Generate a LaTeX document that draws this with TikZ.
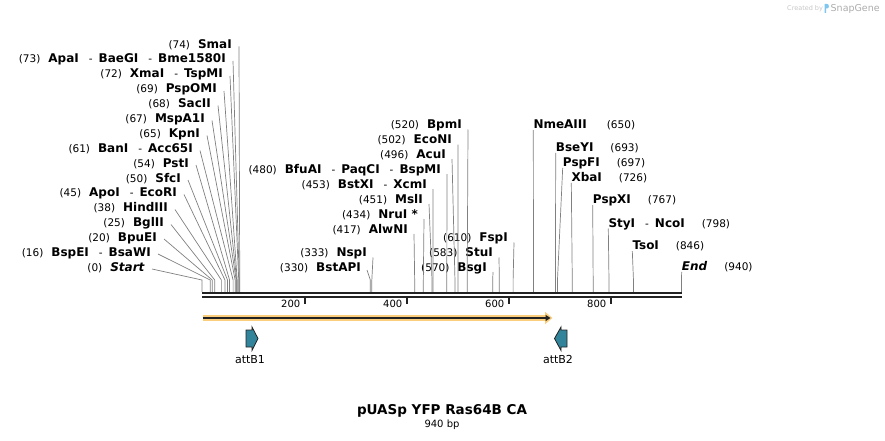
\documentclass[tikz,border=0pt]{standalone}
\usepackage{fontspec}
\setmainfont{DejaVu Sans}
\usetikzlibrary{arrows.meta}

\definecolor{cutgray}{RGB}{128,128,128}
\definecolor{axisblack}{RGB}{34,34,34}
\definecolor{featorange}{RGB}{250,206,125}
\definecolor{attteal}{RGB}{50,132,155}
\definecolor{logoblue}{RGB}{125,198,240}

\newcommand{\sitenum}[1]{{\fontsize{10.5}{12}\selectfont(#1)}}
\newcommand{\orcut}{\hspace{10pt}{\fontsize{10.5}{12}\selectfont-}\hspace{6pt}}

\begin{document}
\begin{tikzpicture}[x=1pt,y=-1pt,
    lbl/.style={inner sep=0pt, font=\fontsize{12}{14}\selectfont},
    lleft/.style={lbl, anchor=base east},
    lright/.style={lbl, anchor=base west},
    cut/.style={draw=cutgray, line width=0.7pt},
    axisline/.style={draw=axisblack, line width=2.5pt},
    tick/.style={draw=axisblack, line width=2pt},
    ticklbl/.style={inner sep=0pt, anchor=base east, font=\fontsize{10}{12}\selectfont},
    featbar/.style={draw=featorange, line width=6pt, -{Triangle[length=7.5pt,width=12pt]}},
    featline/.style={draw=axisblack, line width=1.8pt, -{Triangle[length=5pt,width=6pt]}},
    attbox/.style={draw=axisblack, fill=attteal, line width=0.8pt, line join=miter},
    attlbl/.style={inner sep=0pt, font=\fontsize{11}{13}\selectfont}]
  \useasboundingbox (0,0) rectangle (885,441);

  % site positions on the map and the level where the leaders turn down
  \foreach \p in {0,16,20,25,38,45,50,54,61,65,67,68,69,72,73,74,
                  330,333,417,434,451,453,480,496,502,520,570,583,610,
                  650,693,697,726,767,798,846,940}
    \coordinate (c\p) at ({202+0.51*\p},292);
  \coordinate (bend) at (0,280);

  % left fan
  \node[lleft] (smaI) at (232,48.5) {\sitenum{74}\hspace{8pt}\textbf{SmaI}};
  \node[lleft] (apaI) at (226,63) {\sitenum{73}\hspace{8pt}\textbf{ApaI}\orcut\textbf{BaeGI}\orcut\textbf{Bme1580I}};
  \node[lleft] (xmaI) at (223,78) {\sitenum{72}\hspace{8pt}\textbf{XmaI}\orcut\textbf{TspMI}};
  \node[lleft] (pspOMI) at (217,93) {\sitenum{69}\hspace{8pt}\textbf{PspOMI}};
  \node[lleft] (sacII) at (211,107.5) {\sitenum{68}\hspace{8pt}\textbf{SacII}};
  \node[lleft] (mspA1I) at (205,122.5) {\sitenum{67}\hspace{8pt}\textbf{MspA1I}};
  \node[lleft] (kpnI) at (200,137.5) {\sitenum{65}\hspace{8pt}\textbf{KpnI}};
  \node[lleft] (banI) at (193,152.5) {\sitenum{61}\hspace{8pt}\textbf{BanI}\orcut\textbf{Acc65I}};
  \node[lleft] (pstI) at (189,167) {\sitenum{54}\hspace{8pt}\textbf{PstI}};
  \node[lleft] (sfcI) at (181,182) {\sitenum{50}\hspace{8pt}\textbf{SfcI}};
  \node[lleft] (apoI) at (177,196.5) {\sitenum{45}\hspace{8pt}\textbf{ApoI}\orcut\textbf{EcoRI}};
  \node[lleft] (hindIII) at (168,211.5) {\sitenum{38}\hspace{8pt}\textbf{HindIII}};
  \node[lleft] (bglII) at (164,226.5) {\sitenum{25}\hspace{8pt}\textbf{BglII}};
  \node[lleft] (bpuEI) at (157,241) {\sitenum{20}\hspace{8pt}\textbf{BpuEI}};
  \node[lleft] (bspEI) at (151,256) {\sitenum{16}\hspace{8pt}\textbf{BspEI}\orcut\textbf{BsaWI}};
  \node[lleft] (start) at (145,271) {\sitenum{0}\hspace{8pt}\textbf{\textit{Start}}};

  \draw[cut] ([xshift=7pt,yshift=2pt]smaI.base east) -- (c74 |- bend) -- (c74);
  \draw[cut] ([xshift=7pt,yshift=2pt]apaI.base east) -- (c73 |- bend) -- (c73);
  \draw[cut] ([xshift=7pt,yshift=2pt]xmaI.base east) -- (c72 |- bend) -- (c72);
  \draw[cut] ([xshift=7pt,yshift=2pt]pspOMI.base east) -- (c69 |- bend) -- (c69);
  \draw[cut] ([xshift=7pt,yshift=2pt]sacII.base east) -- (c68 |- bend) -- (c68);
  \draw[cut] ([xshift=7pt,yshift=2pt]mspA1I.base east) -- (c67 |- bend) -- (c67);
  \draw[cut] ([xshift=7pt,yshift=2pt]kpnI.base east) -- (c65 |- bend) -- (c65);
  \draw[cut] ([xshift=7pt,yshift=2pt]banI.base east) -- (c61 |- bend) -- (c61);
  \draw[cut] ([xshift=7pt,yshift=2pt]pstI.base east) -- (c54 |- bend) -- (c54);
  \draw[cut] ([xshift=7pt,yshift=2pt]sfcI.base east) -- (c50 |- bend) -- (c50);
  \draw[cut] ([xshift=7pt,yshift=2pt]apoI.base east) -- (c45 |- bend) -- (c45);
  \draw[cut] ([xshift=7pt,yshift=2pt]hindIII.base east) -- (c38 |- bend) -- (c38);
  \draw[cut] ([xshift=7pt,yshift=2pt]bglII.base east) -- (c25 |- bend) -- (c25);
  \draw[cut] ([xshift=7pt,yshift=2pt]bpuEI.base east) -- (c20 |- bend) -- (c20);
  \draw[cut] ([xshift=7pt,yshift=2pt]bspEI.base east) -- (c16 |- bend) -- (c16);
  \draw[cut] ([xshift=7pt,yshift=2pt]start.base east) -- (c0 |- bend) -- (c0);

  % middle fan
  \node[lleft] (bpmI) at (462,128.5) {\sitenum{520}\hspace{8pt}\textbf{BpmI}};
  \node[lleft] (ecoNI) at (452,143.5) {\sitenum{502}\hspace{8pt}\textbf{EcoNI}};
  \node[lleft] (acuI) at (446,158) {\sitenum{496}\hspace{8pt}\textbf{AcuI}};
  \node[lleft] (bfuAI) at (441,173) {\sitenum{480}\hspace{8pt}\textbf{BfuAI}\orcut\textbf{PaqCI}\orcut\textbf{BspMI}};
  \node[lleft] (bstXI) at (427,188) {\sitenum{453}\hspace{8pt}\textbf{BstXI}\orcut\textbf{XcmI}};
  \node[lleft] (mslI) at (423,203) {\sitenum{451}\hspace{8pt}\textbf{MslI}};
  \node[lleft] (nruI) at (418,218) {\sitenum{434}\hspace{8pt}\textbf{NruI *}};
  \node[lleft] (alwNI) at (408,233) {\sitenum{417}\hspace{8pt}\textbf{AlwNI}};
  \node[lleft] (nspI) at (367,256.5) {\sitenum{333}\hspace{8pt}\textbf{NspI}};
  \node[lleft] (bstAPI) at (361,271) {\sitenum{330}\hspace{8pt}\textbf{BstAPI}};
  \node[lleft] (fspI) at (508,241.5) {\sitenum{610}\hspace{8pt}\textbf{FspI}};
  \node[lleft] (stuI) at (493,256.5) {\sitenum{583}\hspace{8pt}\textbf{StuI}};
  \node[lleft] (bsgI) at (487,271) {\sitenum{570}\hspace{8pt}\textbf{BsgI}};

  \draw[cut] ([xshift=6pt,yshift=-1pt]bpmI.base east) -- (c520 |- bend) -- (c520);
  \draw[cut] ([xshift=6pt,yshift=-1pt]ecoNI.base east) -- (c502 |- bend) -- (c502);
  \draw[cut] ([xshift=6pt,yshift=-1pt]acuI.base east) -- (c496 |- bend) -- (c496);
  \draw[cut] ([xshift=6pt,yshift=-1pt]bfuAI.base east) -- (c480 |- bend) -- (c480);
  \draw[cut] ([xshift=6pt,yshift=-1pt]bstXI.base east) -- (c453 |- bend) -- (c453);
  \draw[cut] ([xshift=6pt,yshift=-1pt]mslI.base east) -- (c451 |- bend) -- (c451);
  \draw[cut] ([xshift=6pt,yshift=-1pt]nruI.base east) -- (c434 |- bend) -- (c434);
  \draw[cut] ([xshift=6pt,yshift=-1pt]alwNI.base east) -- (c417 |- bend) -- (c417);
  \draw[cut] ([xshift=6pt,yshift=-1pt]nspI.base east) -- (c333 |- bend) -- (c333);
  \draw[cut] ([xshift=6pt,yshift=1pt]bstAPI.base east) -- (c330 |- bend) -- (c330);
  \draw[cut] ([xshift=6pt,yshift=-1pt]fspI.base east) -- (c610 |- bend) -- (c610);
  \draw[cut] ([xshift=6pt,yshift=-1pt]stuI.base east) -- (c583 |- bend) -- (c583);
  \draw[cut] ([xshift=6pt,yshift=-1pt]bsgI.base east) -- (c570 |- bend) -- (c570);

  % right fan
  \node[lright] (nmeAIII) at (533.3,128.5) {\textbf{NmeAIII}\hspace{20pt}\sitenum{650}};
  \node[lright] (bseYI) at (555.7,151.3) {\textbf{BseYI}\hspace{17pt}\sitenum{693}};
  \node[lright] (pspFI) at (562.7,166.3) {\textbf{PspFI}\hspace{17pt}\sitenum{697}};
  \node[lright] (xbaI) at (571.3,181.3) {\textbf{XbaI}\hspace{17pt}\sitenum{726}};
  \node[lright] (pspXI) at (592.7,203.7) {\textbf{PspXI}\hspace{17pt}\sitenum{767}};
  \node[lright] (styI) at (608.3,227) {\textbf{StyI}\orcut\textbf{NcoI}\hspace{17pt}\sitenum{798}};
  \node[lright] (tsoI) at (632.3,249.7) {\textbf{TsoI}\hspace{17pt}\sitenum{846}};
  \node[lright] (end) at (681.7,270.3) {\textbf{\textit{End}}\hspace{17pt}\sitenum{940}};

  \draw[cut] ([yshift=-1.5pt]nmeAIII.base west) -- (c650 |- bend) -- (c650);
  \draw[cut] ([yshift=-1.5pt]bseYI.base west) -- (c693 |- bend) -- (c693);
  \draw[cut] ([yshift=-1.5pt]pspFI.base west) -- (c697 |- bend) -- (c697);
  \draw[cut] ([yshift=-1.5pt]xbaI.base west) -- (c726 |- bend) -- (c726);
  \draw[cut] ([yshift=-1.5pt]pspXI.base west) -- (c767 |- bend) -- (c767);
  \draw[cut] ([yshift=-1.5pt]styI.base west) -- (c798 |- bend) -- (c798);
  \draw[cut] ([yshift=-1.5pt]tsoI.base west) -- (c846 |- bend) -- (c846);
  \draw[cut] ([yshift=-1.5pt]end.base west) -- (c940 |- bend) -- (c940);

  % sequence ruler
  \coordinate (ax-l) at (202,293);
  \coordinate (ax-r) at (681.8,293);
  \draw[axisline] (ax-l) -- (ax-r);
  \draw[axisline] ([yshift=-4pt]ax-l) -- ([yshift=-4pt]ax-r);
  \foreach \t in {200,400,600,800} {
    \coordinate (tk\t) at ({202.5+0.51*\t},298);
    \draw[tick] (tk\t) -- ++(0,6);
    \node[ticklbl] (tl\t) at ({198.5+0.51*\t},307.3) {\t};
  }

  % features
  \coordinate (bar-s) at (202.5,318);
  \coordinate (bar-e) at (552.5,318);
  \draw[featbar] (bar-s) -- (bar-e);
  \draw[featline] (bar-s) -- ([xshift=-2pt]bar-e);
  \draw[attbox] (246,330) -- (252,330) -- (252,327) -- (258,338.5) -- (252,350.5)
    -- (252,347) -- (246,347) -- cycle;
  \draw[attbox] (567,330) -- (561,330) -- (561,327) -- (554.5,338.5) -- (561,350.5)
    -- (561,347) -- (567,347) -- cycle;
  \node[attlbl] (attB1) at (250,359.5) {attB1};
  \node[attlbl] (attB2) at (558,359.5) {attB2};

  % title
  \node[inner sep=0pt, anchor=base, font=\fontsize{13.5}{16}\selectfont\bfseries] (title) at (442,414.5) {pUASp YFP Ras64B CA};
  \node[inner sep=0pt, anchor=base, font=\fontsize{10}{12}\selectfont] (size) at (442,427) {940 bp};

  % logo
  \node[inner sep=0pt, anchor=base west, text=gray!45, font=\fontsize{6.5}{8}\selectfont] (made) at (787,10.5) {Created by};
  \fill[logoblue] (824.5,13) -- (824.5,4) -- (827,4) .. controls (829.5,4) and (829.5,8.5) .. (827,8.5)
    -- (826,8.5) -- (826,13) -- cycle;
  \node[inner sep=0pt, anchor=base west, text=gray!65, font=\fontsize{9.5}{11}\selectfont] (logo) at (830.5,11.5) {SnapGene};
\end{tikzpicture}
\end{document}
